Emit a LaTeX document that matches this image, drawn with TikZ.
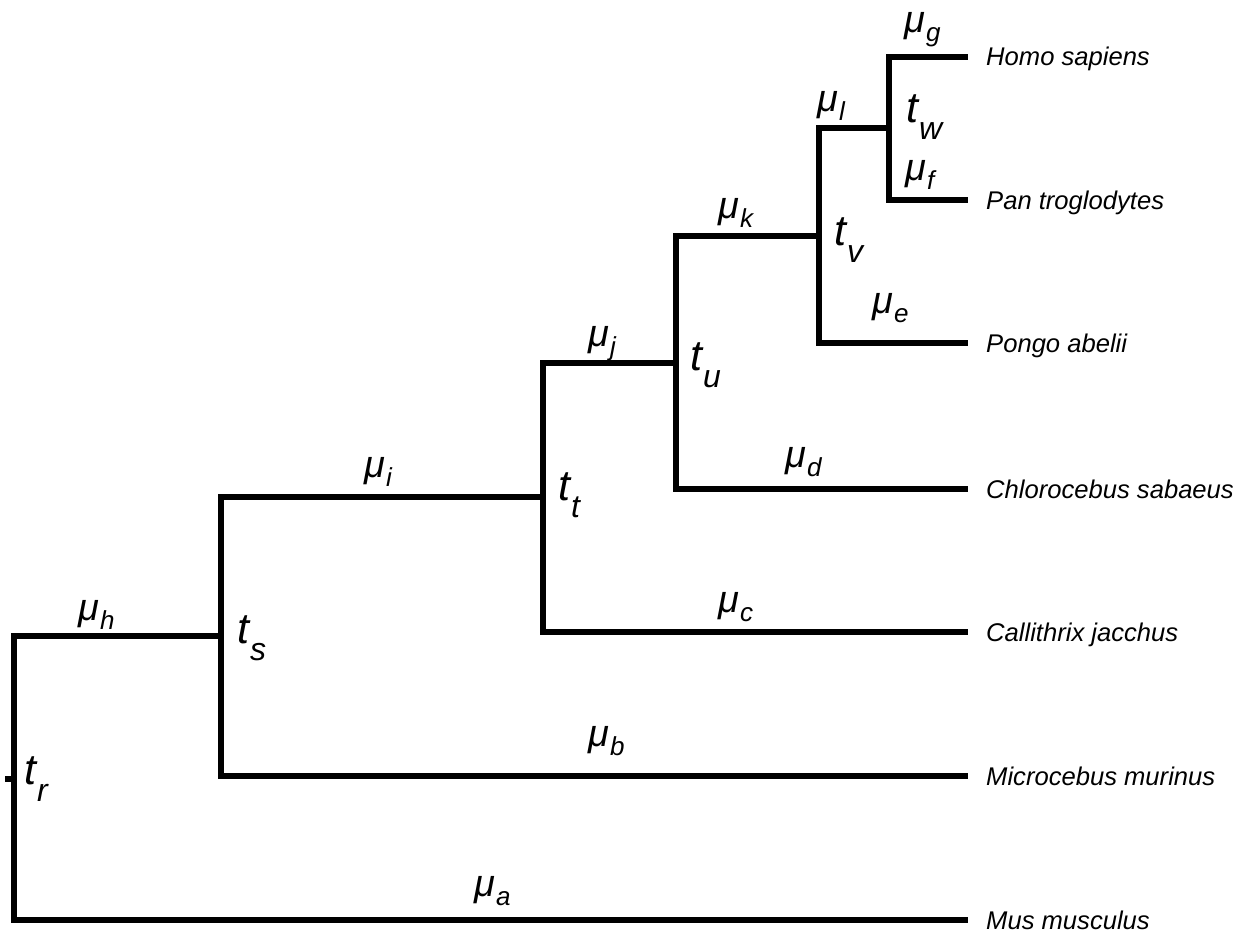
\documentclass[tikz,border=0pt]{standalone}
\usepackage{fontspec}
\setmainfont{Liberation Sans}
% branch-length label: mu with a lowered subscript
\newcommand\brlen[1]{{\itshape\fontsize{38}{38}\selectfont μ\kern1pt\raisebox{-9pt}{\fontsize{26}{26}\selectfont #1}}}
% node-time label: t with a lowered subscript
\newcommand\nodetime[1]{{\itshape\fontsize{43}{43}\selectfont t\kern1pt\raisebox{-17pt}{\fontsize{32}{32}\selectfont #1}}}
\begin{document}
\begin{tikzpicture}[x=1pt,y=-1pt,
    branch/.style={line width=6pt,line join=miter,line cap=butt},
    taxon/.style={anchor=base west,inner sep=0pt,font=\itshape\fontsize{25.6}{25.6}\selectfont},
    lab/.style={anchor=base west,inner sep=0pt}]
  \useasboundingbox (0,0) rectangle (1245,934);
  % internal nodes
  \coordinate (r) at (14,779);
  \coordinate (s) at (221,636);
  \coordinate (t) at (543,497);
  \coordinate (u) at (676,363);
  \coordinate (v) at (819,236);
  \coordinate (w) at (889,128);
  \coordinate (rstub) at (5,779);
  % tips
  \coordinate (hom) at (968,57);
  \coordinate (pan) at (968,200);
  \coordinate (pon) at (968,343);
  \coordinate (chl) at (968,489);
  \coordinate (cal) at (968,632);
  \coordinate (mic) at (968,776);
  \coordinate (mus) at (968,920);
  % branches
  \draw[branch] (rstub) -- (r);
  \draw[branch] (r) |- (s);
  \draw[branch] (r) |- (mus);
  \draw[branch] (s) |- (t);
  \draw[branch] (s) |- (mic);
  \draw[branch] (t) |- (u);
  \draw[branch] (t) |- (cal);
  \draw[branch] (u) |- (v);
  \draw[branch] (u) |- (chl);
  \draw[branch] (v) |- (w);
  \draw[branch] (v) |- (pon);
  \draw[branch] (w) |- (hom);
  \draw[branch] (w) |- (pan);
  % taxon names
  \node[taxon] (homl) at (986,66) {Homo sapiens};
  \node[taxon] (panl) at (986,209) {Pan troglodytes};
  \node[taxon] (ponl) at (986,352) {Pongo abelii};
  \node[taxon] (chll) at (986,498) {Chlorocebus sabaeus};
  \node[taxon] (call) at (986,641) {Callithrix jacchus};
  \node[taxon] (micl) at (986,785) {Microcebus murinus};
  \node[taxon] (musl) at (986,929) {Mus musculus};
  % branch lengths
  \node[lab] (mug) at (904,33) {\brlen{g}};
  \node[lab] (mul) at (817,111) {\brlen{l}};
  \node[lab] (muf) at (905,180) {\brlen{f}};
  \node[lab] (muk) at (718,218) {\brlen{k}};
  \node[lab] (mue) at (872,313) {\brlen{e}};
  \node[lab] (muj) at (588,346) {\brlen{j}};
  \node[lab] (mud) at (785,467) {\brlen{d}};
  \node[lab] (mui) at (364,477) {\brlen{i}};
  \node[lab] (muc) at (718,612) {\brlen{c}};
  \node[lab] (muh) at (78,620) {\brlen{h}};
  \node[lab] (mub) at (588,746) {\brlen{b}};
  \node[lab] (mua) at (474,896) {\brlen{a}};
  % node times
  \node[lab] (tw) at (906,122) {\nodetime{w}};
  \node[lab] (tv) at (834,245) {\nodetime{v}};
  \node[lab] (tu) at (690,370) {\nodetime{u}};
  \node[lab] (tt) at (558,500) {\nodetime{t}};
  \node[lab] (ts) at (237,643) {\nodetime{s}};
  \node[lab] (tr) at (24,784) {\nodetime{r}};
\end{tikzpicture}
\end{document}
